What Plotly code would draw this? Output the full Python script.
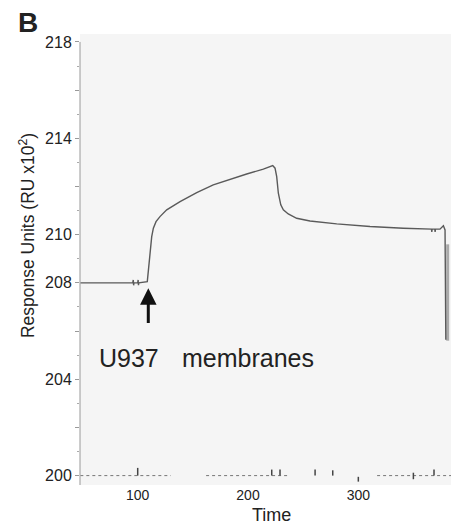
import plotly.graph_objects as go

# Sensorgram trace (Time, Response Units x10^2)
time = [48, 95.5, 96, 96.3, 96.6, 100, 100.4, 100.7, 101, 108.7, 110.5, 112.7, 114.2, 116.6,
        120.2, 126.3, 138.4, 153.5, 168.5, 183.7, 198.8, 213.9, 222.4, 224.5, 226, 227.5,
        229.7, 232, 236.5, 244.1, 256.2, 280.4, 310.6, 340.8, 362, 366.3, 366.6, 366.9,
        369.3, 369.6, 369.9, 374, 377.1, 378.6, 379.3]
response = [208.0, 208.0, 208.12, 207.9, 208.0, 208.0, 208.12, 207.9, 208.0, 208.05, 208.95,
            209.92, 210.27, 210.54, 210.75, 211.03, 211.37, 211.75, 212.07, 212.30, 212.52,
            212.72, 212.87, 212.76, 212.41, 211.72, 211.24, 211.03, 210.86, 210.68, 210.57,
            210.45, 210.34, 210.27, 210.23, 210.23, 210.12, 210.23, 210.23, 210.12, 210.23,
            210.23, 210.37, 210.2, 205.64]

# Noisy band at right edge
edge_time = [381.0, 381.0]
edge_response = [209.6, 205.6]

# Baseline at 200 with injection spikes
base_time = [48, 130, 145, 162, 170, 237, 240, 285, 317, 368, 384]
base_response = [200, 200, None, 200, 200, 200, None, None, 200, 200, 200]
spike_time = [100, 100, None, 221.5, 221.5, None, 229, 229, None, 260.8, 260.8, None,
              276.8, 276.8, None, 349.9, 349.9, None, 368.6, 368.6, None, 300, 300]
spike_response = [200, 200.32, None, 200, 200.25, None, 200, 200.25, None, 200, 200.25, None,
                  200, 200.22, None, 199.85, 200.12, None, 200, 200.25, None, 199.95, 199.75]

y_tickvals = [200, 202, 204, 206, 208, 210, 212, 214, 216, 218]
y_ticktext = ["200", "", "204", "", "208", "210", "", "214", "", "218"]
x_tickvals = [100, 200, 300]
x_ticktext = ["100", "200", "300"]

FONT = "Liberation Sans, Arial, sans-serif"

fig = go.Figure()
fig.add_trace(go.Scatter(x=base_time, y=base_response, mode="lines",
                         line=dict(color="#777", width=1, dash="dot"),
                         connectgaps=False, hoverinfo="skip"))
fig.add_trace(go.Scatter(x=spike_time, y=spike_response, mode="lines",
                         line=dict(color="#444", width=1.5), hoverinfo="skip"))
fig.add_trace(go.Scatter(x=edge_time, y=edge_response, mode="lines",
                         line=dict(color="#aaa", width=3), hoverinfo="skip"))
fig.add_trace(go.Scatter(x=time, y=response, mode="lines",
                         line=dict(color="#5a5a5a", width=1.4)))

fig.update_layout(
    width=451, height=524,
    margin=dict(l=80, r=0, t=34, b=39),
    paper_bgcolor="white", plot_bgcolor="#f5f5f5",
    showlegend=False,
    font=dict(family=FONT, color="#222"),
    xaxis=dict(range=[47.7, 384], tickvals=x_tickvals, ticktext=x_ticktext,
               showgrid=False, zeroline=False, showline=False, ticks="",
               tickfont=dict(size=14, color="#222"), ticklabelstandoff=0),
    yaxis=dict(range=[199.61, 218.33], tickvals=y_tickvals, ticktext=y_ticktext,
               showgrid=False, zeroline=False, showline=False,
               ticks="outside", ticklen=4, tickcolor="#999", tickwidth=1,
               minor=dict(dtick=1, ticks="outside", ticklen=2, tickcolor="#aaa"),
               tickfont=dict(size=16, color="#222")),
    shapes=[dict(type="line", xref="paper", yref="y", x0=0, x1=0, y0=199.55, y1=218,
                 line=dict(color="#999", width=1))],
    annotations=[
        dict(text="<b>B</b>", xref="paper", yref="paper", x=-0.1725, y=1.0244,
             xanchor="left", yanchor="middle", showarrow=False,
             font=dict(size=28, color="#222")),
        dict(text="Response Units (RU x10<sup>2</sup>)", xref="paper", yref="paper",
             x=-0.143, y=0.554, textangle=-90, showarrow=False,
             xanchor="center", yanchor="middle", font=dict(size=17.5, color="#222")),
        dict(text="Time", xref="paper", yref="paper", x=0.5175, y=-0.066,
             xanchor="center", yanchor="middle", showarrow=False,
             font=dict(size=18, color="#222")),
        dict(text=" ", x=109.6, y=207.78, ax=109.6, ay=205.98, xref="x", yref="y",
             axref="x", ayref="y", showarrow=True, arrowhead=2, arrowsize=1.1,
             arrowwidth=3, arrowcolor="#111"),
        dict(text="U937", x=63.1, y=204.9, xref="x", yref="y", xanchor="left",
             yanchor="middle", showarrow=False, font=dict(size=25, color="#222")),
        dict(text="membranes", x=138.5, y=204.9, xref="x", yref="y", xanchor="left",
             yanchor="middle", showarrow=False, font=dict(size=25, color="#222")),
    ],
)

fig.write_html("out.html", config={"displayModeBar": False},
               post_script="document.body.style.margin='0';")
